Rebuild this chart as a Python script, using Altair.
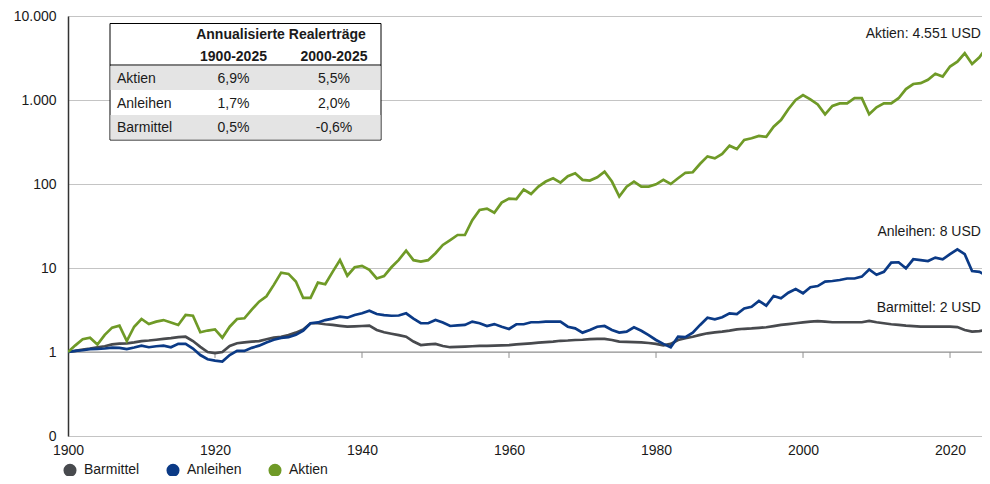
import altair as alt
import pandas as pd

FONT = "Liberation Sans"

# ---------------- data ----------------
years = list(range(1900, 2027))

aktien = [
    1.0, 1.2, 1.42, 1.48, 1.23, 1.6, 1.95, 2.06, 1.35, 2.0,
    2.47, 2.15, 2.3, 2.4, 2.25, 2.1, 2.76, 2.7, 1.72, 1.8,
    1.86, 1.48, 2.0, 2.47, 2.52, 3.2, 3.97, 4.6, 6.3, 8.8,
    8.5, 6.9, 4.4, 4.4, 6.7, 6.4, 9.0, 12.4, 8.1, 10.2,
    10.6, 9.5, 7.5, 8.0, 10.2, 12.5, 16.1, 12.4, 11.9, 12.4,
    15.0, 18.8, 21.5, 24.7, 24.7, 37, 49, 51, 45.5, 60,
    67, 66, 86, 76, 93, 107, 117, 104, 124, 134,
    112, 110, 120, 140, 107, 71, 93, 107, 93, 93,
    99, 112, 100, 117, 136, 138, 174, 213, 202, 228,
    286, 261, 334, 350, 373, 365, 480, 576, 777, 1000,
    1146, 1020, 886, 675, 850, 912, 912, 1050, 1050, 675,
    818, 912, 912, 1050, 1350, 1550, 1585, 1740, 2050, 1900,
    2500, 2860, 3600, 2690, 3230, 4250, 4551,
]

anleihen = [
    1.0, 1.03, 1.05, 1.08, 1.09, 1.1, 1.13, 1.12, 1.08, 1.13,
    1.19, 1.14, 1.17, 1.19, 1.14, 1.25, 1.25, 1.1, 0.92, 0.82,
    0.79, 0.77, 0.92, 1.03, 1.03, 1.12, 1.19, 1.3, 1.4, 1.47,
    1.5, 1.6, 1.8, 2.2, 2.25, 2.4, 2.5, 2.63, 2.56, 2.76,
    2.89, 3.1, 2.83, 2.75, 2.7, 2.72, 2.89, 2.5, 2.2, 2.2,
    2.4, 2.25, 2.04, 2.07, 2.1, 2.3, 2.2, 2.04, 2.15, 2.0,
    1.88, 2.14, 2.14, 2.26, 2.26, 2.3, 2.3, 2.3, 2.0, 1.91,
    1.7, 1.83, 2.0, 2.04, 1.83, 1.7, 1.75, 1.97, 1.79, 1.59,
    1.39, 1.25, 1.14, 1.52, 1.5, 1.7, 2.1, 2.56, 2.45, 2.59,
    2.89, 2.83, 3.3, 3.46, 4.05, 3.56, 4.64, 4.35, 5.08, 5.62,
    5.0, 5.9, 6.1, 6.9, 7.0, 7.2, 7.5, 7.5, 7.9, 9.6,
    8.3, 9.0, 11.6, 11.7, 9.9, 12.7, 12.4, 12.1, 13.3, 12.7,
    14.6, 16.7, 14.6, 9.2, 9.0, 8.1, 8.0,
]

barmittel = [
    1.0, 1.03, 1.07, 1.1, 1.14, 1.17, 1.23, 1.26, 1.27, 1.3,
    1.35, 1.37, 1.4, 1.43, 1.46, 1.5, 1.52, 1.35, 1.15, 1.0,
    0.97, 1.0, 1.18, 1.27, 1.3, 1.33, 1.35, 1.42, 1.48, 1.52,
    1.59, 1.7, 1.85, 2.2, 2.2, 2.14, 2.1, 2.05, 2.0, 2.02,
    2.04, 2.06, 1.83, 1.72, 1.65, 1.59, 1.52, 1.33, 1.21, 1.23,
    1.25, 1.18, 1.14, 1.15, 1.16, 1.17, 1.18, 1.18, 1.19, 1.2,
    1.21, 1.23, 1.25, 1.27, 1.29, 1.31, 1.33, 1.36, 1.37, 1.39,
    1.4, 1.42, 1.43, 1.43, 1.39, 1.33, 1.32, 1.31, 1.3, 1.28,
    1.25, 1.2, 1.25, 1.39, 1.46, 1.52, 1.6, 1.67, 1.71, 1.75,
    1.8, 1.86, 1.89, 1.91, 1.94, 1.97, 2.03, 2.1, 2.15, 2.2,
    2.25, 2.3, 2.33, 2.3, 2.26, 2.26, 2.26, 2.26, 2.26, 2.34,
    2.26, 2.2, 2.14, 2.1, 2.06, 2.03, 2.0, 2.0, 2.0, 2.0,
    2.0, 1.98, 1.83, 1.75, 1.77, 1.86, 1.9,
]

series_names = ["Barmittel", "Anleihen", "Aktien"]
series_colors = ["#484a4e", "#0b3a86", "#6f9a27"]

end_labels = ["Aktien: 4.551 USD", "Anleihen: 8 USD", "Barmittel: 2 USD"]
end_label_year = [2024.2, 2024.2, 2024.2]
end_label_value = [6100, 26.8, 3.34]

x_ticks = [1900, 1920, 1940, 1960, 1980, 2000, 2020]
y_ticks = [0.1, 1, 10, 100, 1000, 10000]
axis_ticks_years = [1920, 1940, 1960, 1980, 2000, 2020]

table_title = "Annualisierte Realerträge"
table_periods = ["1900-2025", "2000-2025"]
table_rows = ["Aktien", "Anleihen", "Barmittel"]
table_col1 = ["6,9%", "1,7%", "0,5%"]
table_col2 = ["5,5%", "2,0%", "-0,6%"]

# ---------------- build ----------------
recs = []
for name, vals in zip(series_names, [barmittel, anleihen, aktien]):
    assert len(vals) == len(years)
    for y, v in zip(years, vals):
        recs.append({"year": y, "value": v, "series": name})
df = pd.DataFrame(recs)

TXT = "#1a1a1a"

X = alt.X(
    "year:Q",
    scale=alt.Scale(domain=[1900, 2024.35], nice=False, zero=False),
    axis=alt.Axis(values=x_ticks, format="d", title=None, grid=False, ticks=False,
                  tickSize=0, domain=False, labelFontSize=14, labelPadding=7,
                  labelColor=TXT, labelFont=FONT, labelFlush=False),
)
Y = alt.Y(
    "value:Q",
    scale=alt.Scale(type="log", domain=[0.1, 10000], nice=False),
    axis=alt.Axis(values=y_ticks, title=None, grid=True, gridColor="#c4c4c4",
                  gridWidth=1, ticks=False, tickSize=0, domain=True,
                  domainColor="#333333", domainWidth=1.5, labelPadding=12,
                  labelFontSize=14, labelColor=TXT, labelFont=FONT,
                  labelExpr="datum.value >= 1 ? replace(format(datum.value, ','), ',', '.') : '0'"),
)

lines = alt.Chart(df).mark_line(strokeWidth=2.7, clip=True).encode(
    x=X,
    y=Y,
    color=alt.Color(
        "series:N",
        scale=alt.Scale(domain=series_names, range=series_colors),
        legend=alt.Legend(
            orient="none", legendX=-5, legendY=447, direction="horizontal",
            title=None, symbolType="circle", symbolSize=42, symbolStrokeWidth=6.6,
            symbolOpacity=1, labelFontSize=14, labelColor=TXT, labelFont=FONT,
            columnPadding=16, labelOffset=7, padding=0,
        ),
    ),
    order="year:Q",
)

one_rule = alt.Chart(pd.DataFrame({"value": [1.0]})).mark_rule(
    color="#8f8f8f", strokeWidth=1
).encode(y=Y)

tick_df = pd.DataFrame({"year": axis_ticks_years,
                        "value": [1.0] * len(axis_ticks_years),
                        "value2": [0.85] * len(axis_ticks_years)})
tick_marks = alt.Chart(tick_df).mark_rule(color="#8f8f8f", strokeWidth=1).encode(
    x=X, y=Y, y2=alt.Y2("value2:Q")
)

lab_df = pd.DataFrame({"year": end_label_year, "value": end_label_value, "text": end_labels})
end_text = alt.Chart(lab_df).mark_text(
    align="right", baseline="middle", fontSize=14, font=FONT, color=TXT
).encode(x=X, y=Y, text="text:N")

# ---------------- table (annotation, pixel layout) ----------------
one = pd.DataFrame({"a": [0]})
tab_layers = []
tab_layers.append(alt.Chart(one).mark_rect(fill="white", stroke="black", strokeWidth=1).encode(
    x=alt.value(42), x2=alt.value(313), y=alt.value(7.5), y2=alt.value(124)))
for yy0, yy1 in [(50, 74), (99, 123.5)]:
    tab_layers.append(alt.Chart(one).mark_rect(fill="#e4e4e4").encode(
        x=alt.value(42.5), x2=alt.value(312.5), y=alt.value(yy0), y2=alt.value(yy1)))
tab_layers.append(alt.Chart(one).mark_rule(color="black", strokeWidth=1).encode(
    x=alt.value(42), x2=alt.value(313), y=alt.value(49), y2=alt.value(49)))

def txt(s, x, y, align="center", bold=False):
    return alt.Chart(one).mark_text(
        text=s, align=align, baseline="middle", fontSize=14, font=FONT, color=TXT,
        fontWeight="bold" if bold else "normal"
    ).encode(x=alt.value(x), y=alt.value(y))

tab_layers.append(txt(table_title, 213, 19, bold=True))
tab_layers.append(txt(table_periods[0], 165.5, 41, bold=True))
tab_layers.append(txt(table_periods[1], 266, 41, bold=True))
row_y = [63, 88, 112]
for i, r in enumerate(table_rows):
    tab_layers.append(txt(r, 49, row_y[i], align="left"))
    tab_layers.append(txt(table_col1[i], 165.5, row_y[i]))
    tab_layers.append(txt(table_col2[i], 266, row_y[i]))

chart = alt.layer(one_rule, tick_marks, lines, end_text, *tab_layers).properties(
    width=914,
    height=420,
    padding={"left": 60, "top": 8, "right": 0, "bottom": 40},
    autosize=alt.AutoSizeParams(type="none"),
).configure_view(strokeWidth=0).configure(font=FONT)

chart.save("out.html", embed_options={"renderer": "svg", "actions": False})
